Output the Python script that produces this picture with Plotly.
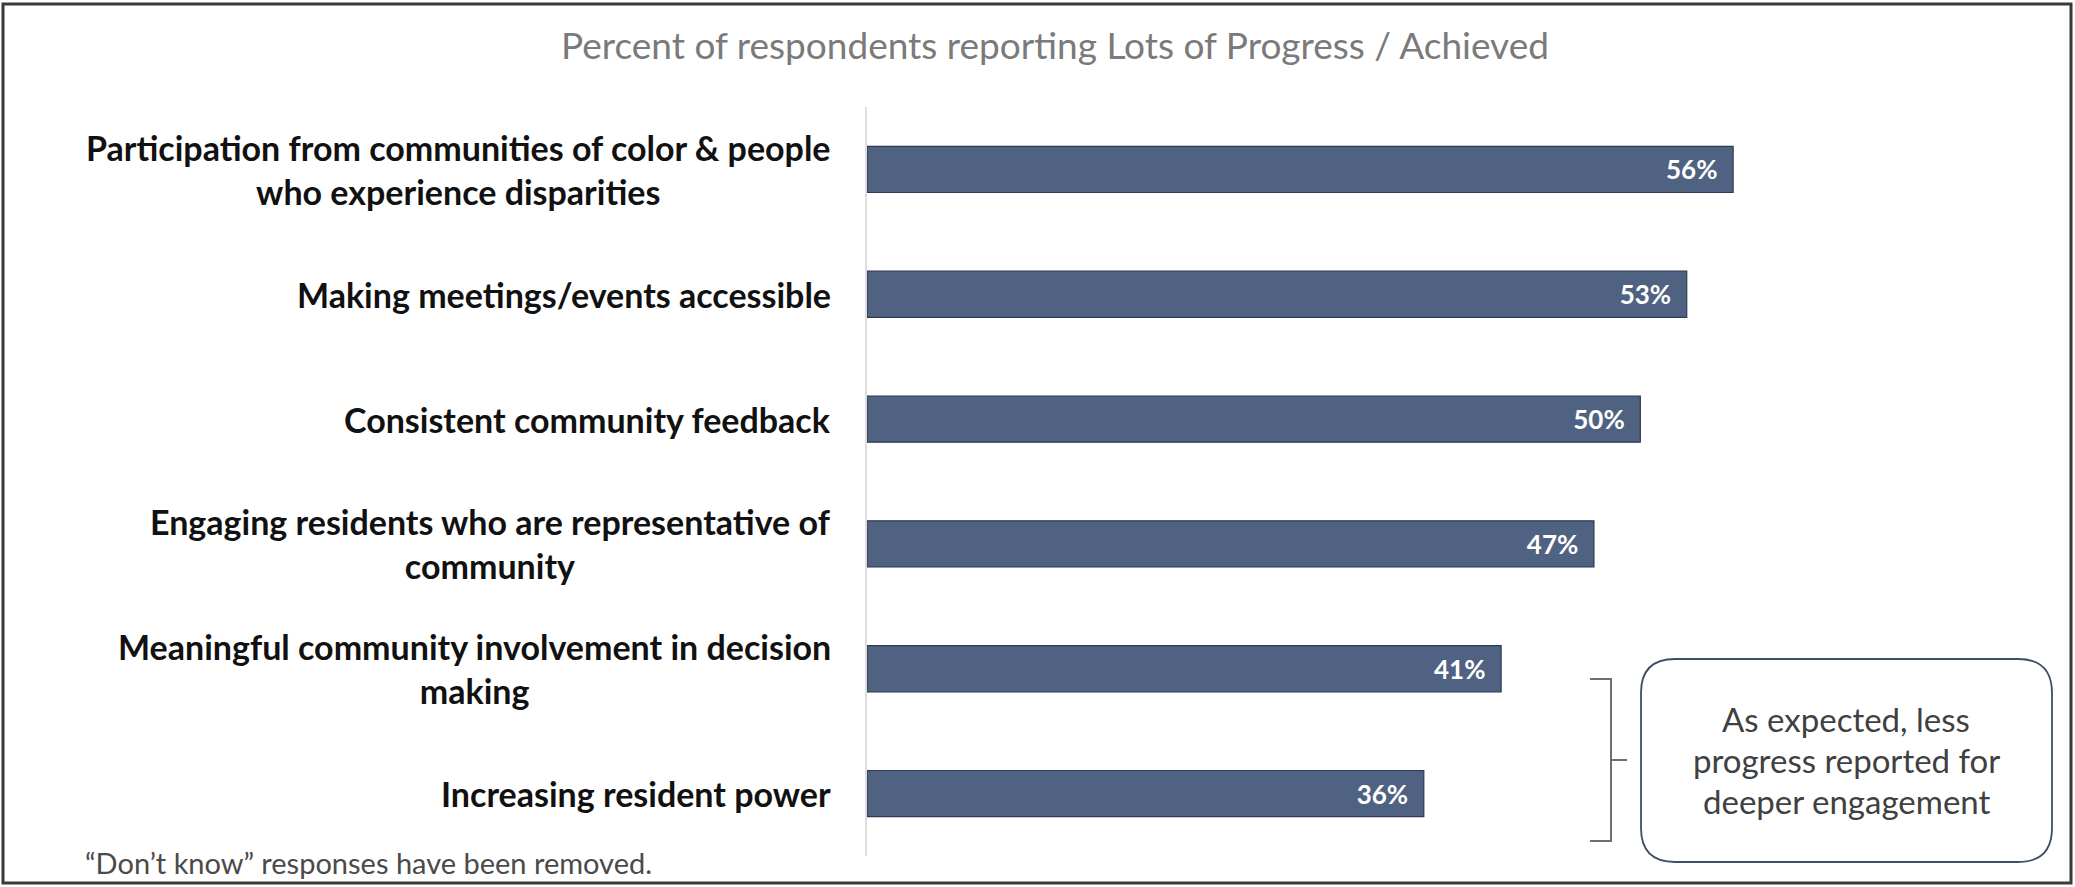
import plotly.graph_objects as go

# ---- data ----
categories = [
    "Participation from communities of color & people<br>who experience disparities",
    "Making meetings/events accessible",
    "Consistent community feedback",
    "Engaging residents who are representative of<br>community",
    "Meaningful community involvement in decision<br>making",
    "Increasing resident power",
]
values = [56, 53, 50, 47, 41, 36]
value_labels = ["56%", "53%", "50%", "47%", "41%", "36%"]
title_text = "Percent of respondents reporting Lots of Progress / Achieved"
footnote_text = "\u201cDon\u2019t know\u201d responses have been removed."
callout_lines = ["As expected, less", "progress reported for", "deeper engagement"]

# ---- layout geometry (pixels) ----
W, H = 2075, 887
L, R, T, B = 867, 280, 107, 31
PW, PH = W - L - R, H - T - B


def px(x):
    return (x - L) / PW


def py(y):
    return (H - B - y) / PH


FONT = "Lato"
BAR = "#506281"

fig = go.Figure()
fig.add_trace(go.Bar(
    x=values, y=categories, orientation="h",
    marker=dict(color=BAR, line=dict(color="#2c3a52", width=1.2)),
    text=[v + "\u00a0\u00a0" for v in value_labels],
    textposition="inside", insidetextanchor="end",
    textfont=dict(family=FONT, size=26, color="white", weight="bold"),
    cliponaxis=False, hoverinfo="skip", width=0.37,
))

annotations = []
for cat in categories:
    annotations.append(dict(
        x=px(833), xref="paper", y=cat, yref="y",
        text=cat, showarrow=False, xanchor="right", yanchor="middle", align="center",
        font=dict(family=FONT, size=34, color="#111111", weight="bold"),
    ))

annotations.append(dict(
    x=px(1055), y=py(44), xref="paper", yref="paper", text=title_text,
    showarrow=False, xanchor="center", yanchor="middle",
    font=dict(family=FONT, size=37, color="#7a7a7a"),
))
annotations.append(dict(
    x=px(83), y=py(862), xref="paper", yref="paper", text=footnote_text,
    showarrow=False, xanchor="left", yanchor="middle",
    font=dict(family=FONT, size=29, color="#4a4a4a"),
))
for i, ln in enumerate(callout_lines):
    annotations.append(dict(
        x=px(1846), y=py(719 + i * 41), xref="paper", yref="paper", text=ln,
        showarrow=False, xanchor="center", yanchor="middle",
        font=dict(family=FONT, size=33, color="#404040"),
    ))

shapes = []
# outer frame
shapes.append(dict(type="rect", xref="paper", yref="paper",
                   x0=px(3), x1=px(2071), y0=py(883), y1=py(4),
                   line=dict(color="#3a3a3a", width=3)))
# bracket
shapes.append(dict(type="path", xref="paper", yref="paper",
                   path=f"M {px(1590)} {py(679)} L {px(1611)} {py(679)} L {px(1611)} {py(841)} L {px(1590)} {py(841)} "
                        f"M {px(1611)} {py(760)} L {px(1627)} {py(760)}",
                   line=dict(color="#6f6f6f", width=2)))
# rounded callout box
x0, x1, y0, y1, r = 1641, 2052, 659, 862, 34
p = (f"M {px(x0 + r)} {py(y0)} L {px(x1 - r)} {py(y0)} Q {px(x1)} {py(y0)} {px(x1)} {py(y0 + r)} "
     f"L {px(x1)} {py(y1 - r)} Q {px(x1)} {py(y1)} {px(x1 - r)} {py(y1)} "
     f"L {px(x0 + r)} {py(y1)} Q {px(x0)} {py(y1)} {px(x0)} {py(y1 - r)} "
     f"L {px(x0)} {py(y0 + r)} Q {px(x0)} {py(y0)} {px(x0 + r)} {py(y0)} Z")
shapes.append(dict(type="path", xref="paper", yref="paper", path=p,
                   line=dict(color="#3f4e66", width=1.8)))

fig.update_layout(
    width=W, height=H, margin=dict(l=L, r=R, t=T, b=B),
    paper_bgcolor="white", plot_bgcolor="white",
    showlegend=False, bargap=0.63,
    xaxis=dict(range=[0, 60], visible=False, fixedrange=True),
    yaxis=dict(categoryorder="array", categoryarray=categories, autorange="reversed",
               showticklabels=False, showgrid=False, zeroline=False,
               showline=True, linecolor="#dedede", linewidth=1.5, ticks=""),
    annotations=annotations, shapes=shapes,
    font=dict(family=FONT),
)

fig.write_html("out.html")
